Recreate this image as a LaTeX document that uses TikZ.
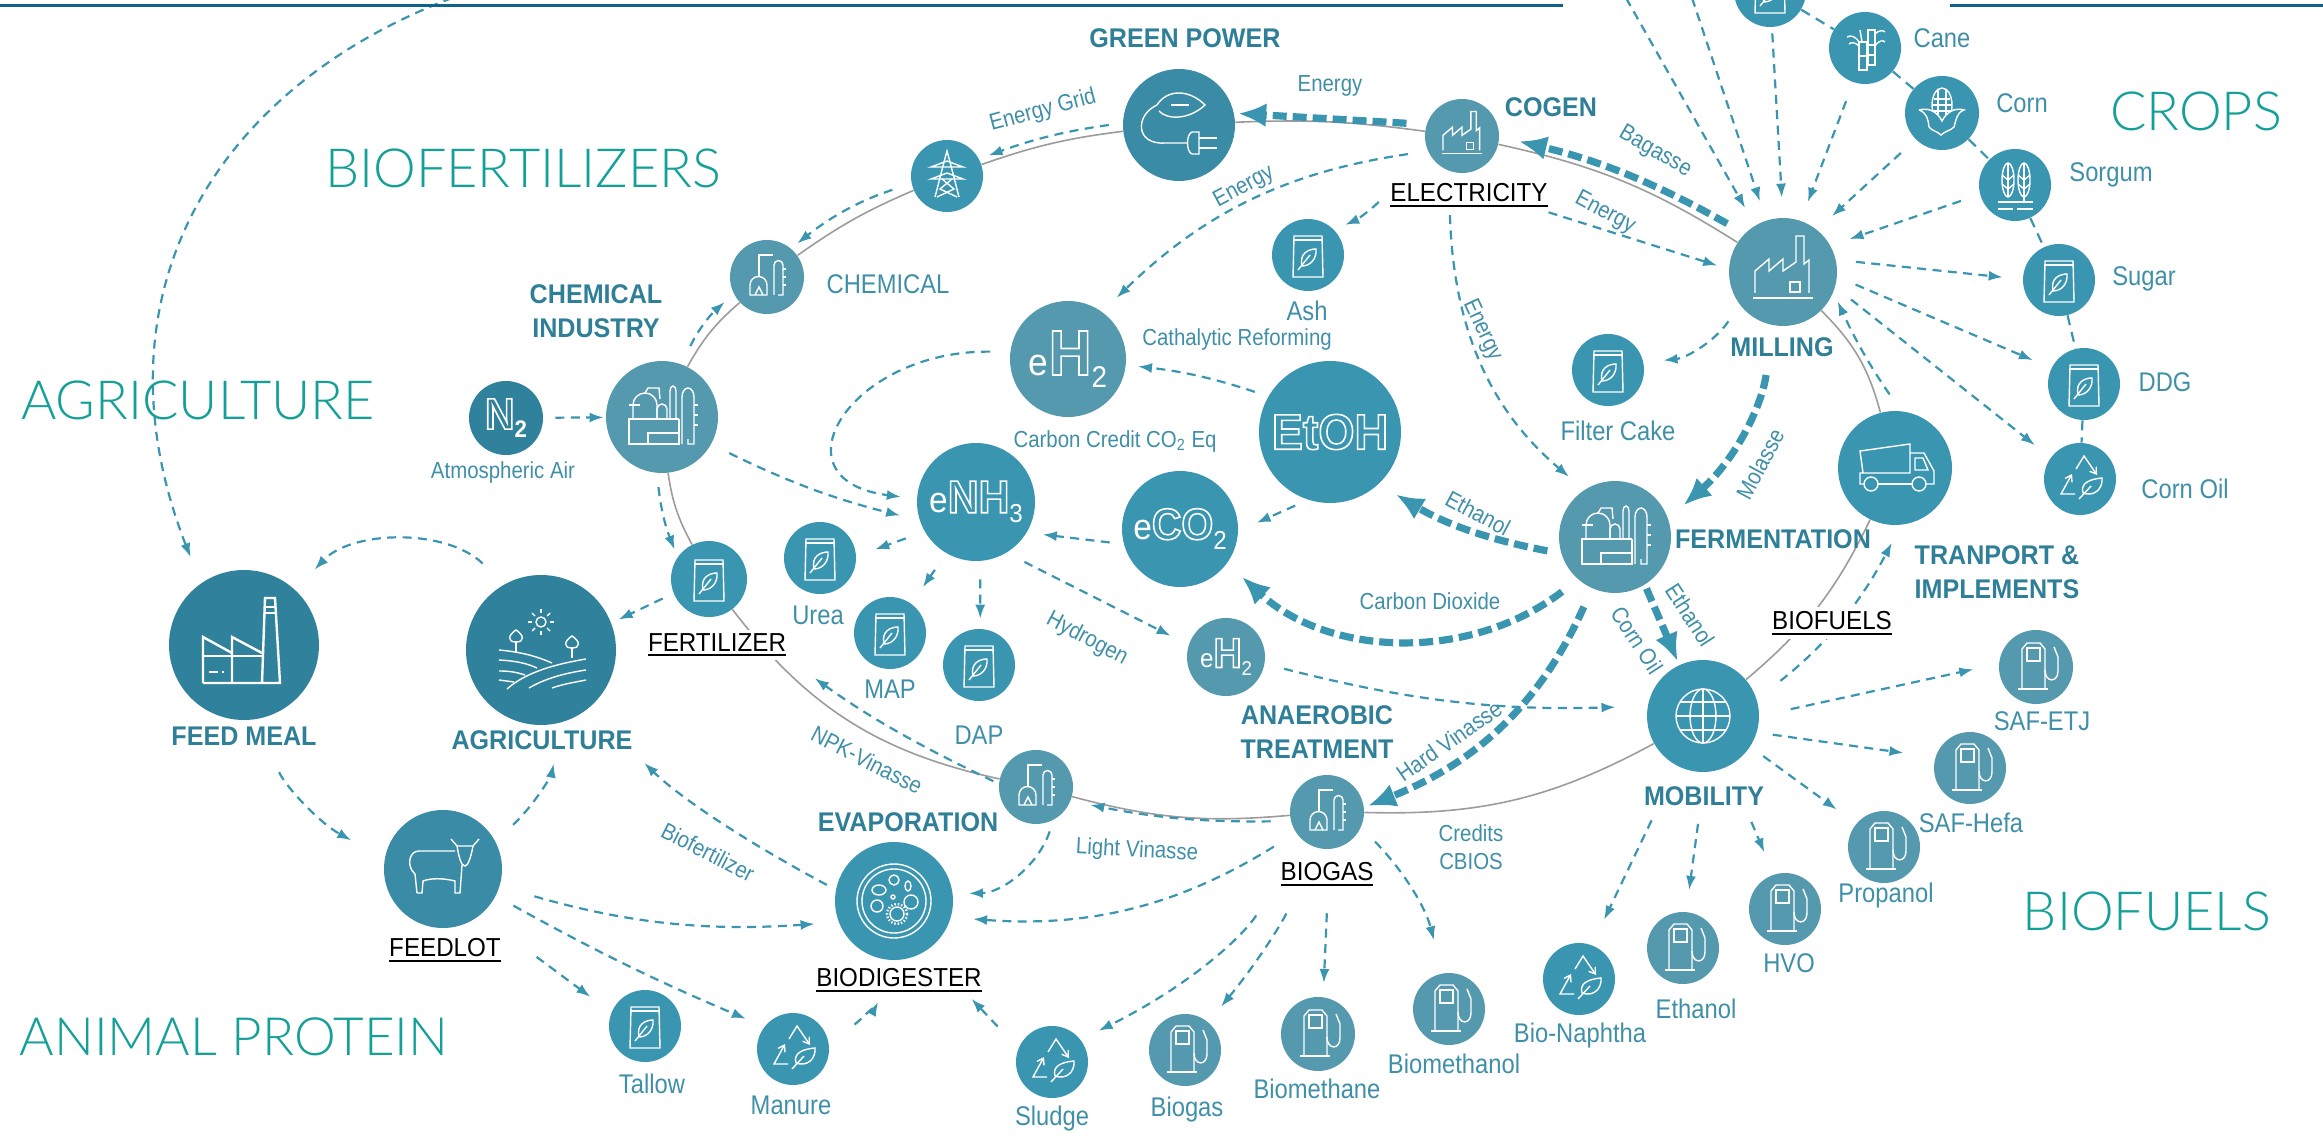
\documentclass[tikz,border=0pt]{standalone}
\usepackage{fontspec}
\setmainfont[FakeStretch=0.88]{Liberation Sans}
\newfontfamily\headfont[FakeStretch=0.93]{Liberation Sans}
\newfontfamily\titlefont{Lato Light}
\usetikzlibrary{arrows.meta,backgrounds}
\definecolor{bright}{HTML}{3A95B1}
\definecolor{pale}{HTML}{5499AE}
\definecolor{mid}{HTML}{3A8BA5}
\definecolor{deep}{HTML}{30829C}
\definecolor{ink}{HTML}{3F8FA8}
\definecolor{headink}{HTML}{2F7F98}
\definecolor{titleink}{HTML}{14A098}
\definecolor{rulecol}{HTML}{0F6288}
\definecolor{ringcol}{HTML}{9C9C9C}
\newcommand{\hollow}[1]{\special{pdf:code 1 Tr 0.8 w}#1\special{pdf:code 0 Tr}}
\newcommand{\barred}[1]{\leavevmode\vtop{\hbox{#1}\kern1.4pt\hrule height 1.1pt}}
\tikzset{
  every pic/.style={yscale=-1},
  disc/.style={circle,inner sep=0pt,minimum size=#1,text=white,font=\headfont},
  lbl/.style={text=ink,inner sep=0pt,align=center,font=\fontsize{13.5}{14}\selectfont},
  thinlbl/.style={text=ink,inner sep=0pt,align=center,font=\fontsize{11.6}{12}\selectfont},
  headlbl/.style={text=headink,inner sep=0pt,align=center,font=\headfont\bfseries\fontsize{13.5}{17}\selectfont},
  underlbl/.style={text=black,fill=white,inner sep=2pt,font=\headfont\fontsize{13}{15}\selectfont},
  titlelbl/.style={text=titleink,inner sep=0pt,font=\titlefont\fontsize{27}{29}\selectfont},
  ring/.style={draw=ringcol,line width=0.8pt},
  flow/.style={draw=bright,line width=1.1pt,dash pattern=on 4.5pt off 3.2pt,shorten <=10pt,shorten >=10pt,-{Latex[length=7pt,width=5pt]}},
  mainflow/.style={draw=bright,line width=3.6pt,dash pattern=on 7pt off 3pt,shorten <=10pt,shorten >=10pt,-{Latex[length=14pt,width=12pt]}},
  chain/.style={draw=bright,line width=1.1pt,dash pattern=on 5pt off 3.5pt},
  icon/.style={draw=white,line width=0.7pt},
  bagicon/.pic={
    \draw[icon] (-14,-19) -- (14,-19) -- (15,22) -- (-15,22) -- cycle;
    \draw[icon] (-14,-15) -- (14,-15);
    \draw[icon] (-6,11) .. controls (-9,-2) and (1,-6) .. (8,-6) .. controls (9,4) and (2,11) .. (-6,11);
    \draw[icon] (-10,15) -- (2,0);
  },
  pumpicon/.pic={
    \draw[icon] (-14,22) -- (-14,-18) -- (-9,-24) -- (4,-24) -- (9,-18) -- (9,22);
    \draw[icon] (-18,22) -- (12,22);
    \draw[icon] (-9,-19) rectangle (4,-6);
    \draw[icon] (9,3) .. controls (9,16) and (22,16) .. (22,4) -- (22,-10) -- (18,-20);
  },
  recycleicon/.pic={
    \draw[icon,-{Straight Barb[length=3pt,width=4pt]}] (-5,15) -- (-19,15) -- (-8,-5);
    \draw[icon,-{Straight Barb[length=3pt,width=4pt]}] (-4,-10) -- (4,-23) -- (17,-4);
    \draw[icon] (3,14) .. controls (0,4) and (10,0) .. (22,-1) .. controls (23,10) and (14,18) .. (3,14);
    \draw[icon] (-1,20) -- (11,7);
  },
  factoryicon/.pic={
    \draw[icon] (-30,26) -- (30,26);
    \draw[icon] (-28,21) -- (-28,-1) -- (-14,-13) -- (-14,-1) -- (0,-13) -- (0,-1) -- (13,-10) -- (13,-36) -- (21,-36) -- (21,-8) -- (26,-12) -- (26,21);
    \draw[icon] (7,10) rectangle (17,20);
  },
  refineryicon/.pic={
    \draw[icon] (17,2) -- (-33,2) -- (-33,27) -- (17,27) -- (17,2);
    \draw[icon] (-14,27) -- (-14,16) -- (17,16);
    \draw[icon] (-29,2) -- (-29,-12) arc (180:360:12 and 12) -- (-5,2);
    \draw[icon] (-33,-12) -- (-22,-12);
    \draw[icon] (-17,-24) -- (-14,-29) -- (-3,-29) -- (-2,-18);
    \draw[icon] (-5,2) -- (-5,-8) arc (180:360:5 and 5) -- (5,2);
    \draw[icon] (8,2) -- (8,-26) arc (180:360:3 and 5) -- (14,2);
    \draw[icon] (20,27) -- (20,-20) arc (180:360:6 and 9) -- (32,27) -- (26,27) -- (26,22);
    \draw[icon] (32,-12) -- (36,-12); \draw[icon] (32,-2) -- (36,-2); \draw[icon] (32,8) -- (36,8);
  },
  stillicon/.pic={
    \draw[icon] (-17,18) -- (-17,8) arc (180:360:8.5 and 8.5) -- (0,18) -- cycle;
    \draw[icon] (-8,0) -- (-8,-22) -- (6,-22);
    \draw[icon] (-12,18) -- (-8,10) -- (-4,18);
    \draw[icon] (7,18) -- (7,-12) arc (180:360:4.5 and 4.5) -- (16,18) -- (11,18);
    \draw[icon] (16,-8) -- (19,-8); \draw[icon] (16,0) -- (19,0); \draw[icon] (16,8) -- (19,8);
  },
  pylonicon/.pic={
    \draw[icon] (-12,21) -- (-3,-14) -- (0,-25) -- (3,-14) -- (12,21);
    \draw[icon] (-16,-9) -- (0,-15) -- (16,-9) -- cycle;
    \draw[icon] (-16,3) -- (0,-3) -- (16,3) -- cycle;
    \draw[icon] (-5,3) -- (7,13) -- (-10,21);
    \draw[icon] (5,3) -- (-7,13) -- (10,21);
  },
  greenicon/.pic={
    \draw[icon] (-22,-20) .. controls (-12,-36) and (10,-36) .. (26,-20) .. controls (10,-5) and (-12,-5) .. (-20,-14);
    \draw[icon] (-8,-20) -- (10,-20);
    \draw[icon] (-22,-20) .. controls (-44,-10) and (-44,20) .. (-14,18) -- (8,18);
    \draw[icon] (20,7) -- (13,7) .. controls (7,9) and (7,27) .. (13,29) -- (20,29) -- cycle;
    \draw[icon] (20,13) -- (38,13); \draw[icon] (20,23) -- (38,23);
  },
  globeicon/.pic={
    \draw[icon] (0,0) circle (27);
    \draw[icon] (0,0) ellipse (13 and 27);
    \draw[icon] (0,-27) -- (0,27);
    \draw[icon] (-27,0) -- (27,0);
    \draw[icon] (-23,-14) -- (23,-14);
    \draw[icon] (-23,14) -- (23,14);
  },
  truckicon/.pic={
    \draw[icon] (-17,16) -- (17,16);
    \draw[icon] (-31,16) -- (-35,16) -- (-35,5) -- (15,5) -- (15,-24) -- (-35,-17) -- (-32,5);
    \draw[icon] (15,-15) -- (29,-15) -- (39,3) -- (39,16) -- (31,16);
    \draw[icon] (20,-10) -- (28,-10) -- (33,2) -- (20,2) -- cycle;
    \draw[icon] (-24,16) circle (7);
    \draw[icon] (24,16) circle (7);
  },
  cowicon/.pic={
    \draw[icon] (-26,24) -- (-28,5) .. controls (-37,-3) and (-34,-18) .. (-24,-18) -- (12,-18);
    \draw[icon] (8,-30) -- (14,-23) -- (30,-23) -- (36,-30);
    \draw[icon] (14,-23) .. controls (16,-12) and (18,-3) .. (22,-3) .. controls (25,-3) and (28,-12) .. (30,-23);
    \draw[icon] (19,-4) -- (17,24) -- (12,24) -- (12,12) .. controls (0,9) and (-12,9) .. (-20,12) -- (-21,24) -- (-26,24);
  },
  fieldicon/.pic={
    \draw[icon] (0,-28) circle (5);
    \draw[icon] (-13,-28) -- (-9,-28); \draw[icon] (13,-28) -- (9,-28);
    \draw[icon] (0,-41) -- (0,-37); \draw[icon] (0,-15) -- (0,-19);
    \draw[icon] (-9,-37) -- (-6,-34); \draw[icon] (9,-37) -- (6,-34);
    \draw[icon] (-9,-19) -- (-6,-22); \draw[icon] (9,-19) -- (6,-22);
    \draw[icon] (-42,0) .. controls (-20,2) and (-5,6) .. (11,13);
    \draw[icon] (-42,10) .. controls (-25,11) and (-15,13) .. (-4,18);
    \draw[icon] (-42,21) .. controls (-32,21) and (-25,22) .. (-16,25);
    \draw[icon] (-42,30) -- (-27,32);
    \draw[icon] (-34,39) .. controls (-15,22) and (15,14) .. (45,9);
    \draw[icon] (-12,38) .. controls (5,28) and (25,23) .. (45,20);
    \draw[icon] (11,38) .. controls (22,34) and (35,32) .. (45,30);
    \draw[icon] (-25,3) -- (-25,-8);
    \draw[icon] (-25,-8) .. controls (-34,-8) and (-33,-15) .. (-25,-20) .. controls (-17,-15) and (-16,-8) .. (-25,-8);
    \draw[icon] (31,8) -- (31,-2);
    \draw[icon] (31,-2) .. controls (22,-2) and (23,-9) .. (31,-14) .. controls (39,-9) and (40,-2) .. (31,-2);
  },
  planticon/.pic={
    \draw[icon,line width=1.2pt] (-41,38) -- (36,38) -- (31,-47) -- (21,-47) -- (18,38);
    \draw[icon,line width=1.2pt] (-41,38) -- (-41,-8) -- (-12,8) -- (-12,38);
    \draw[icon,line width=1.2pt] (-12,8) -- (-12,-8) -- (18,8);
    \draw[icon,line width=1.2pt] (-41,11) -- (18,11);
    \draw[icon,line width=1.2pt] (22,-38) -- (31,-38); \draw[icon,line width=1.2pt] (21,-32) -- (31,-32);
    \draw[icon,line width=1.2pt] (-35,27) -- (-26,27); \draw[icon,line width=1.2pt] (-22,27) -- (-20,27);
  },
  caneicon/.pic={
    \draw[icon] (-6,-6) rectangle (2,22);
    \draw[icon] (3,-18) rectangle (10,17);
    \draw[icon] (-6,8) -- (2,8); \draw[icon] (3,-3) -- (10,-3); \draw[icon] (3,7) -- (10,7);
    \draw[icon] (-6,-6) .. controls (-10,-12) and (-14,-13) .. (-18,-11);
    \draw[icon] (-6,-2) .. controls (-10,-6) and (-14,-6) .. (-16,-4);
    \draw[icon] (10,-14) .. controls (14,-18) and (18,-18) .. (20,-16);
    \draw[icon] (10,-2) .. controls (14,-8) and (18,-8) .. (20,-6);
    \draw[icon] (-3,-6) -- (-5,-18);
  },
  cornicon/.pic={
    \draw[icon] (0,-8) ellipse (10 and 17);
    \draw[icon] (-8,-14) -- (8,-14); \draw[icon] (-10,-8) -- (10,-8); \draw[icon] (-9,-2) -- (9,-2);
    \draw[icon] (-4,-24) -- (-4,2); \draw[icon] (4,-24) -- (4,2);
    \draw[icon,fill=bright] (-23,-3) .. controls (-12,-6) and (-4,0) .. (0,8) .. controls (4,0) and (12,-6) .. (22,-3) .. controls (14,0) and (14,8) .. (12,14) .. controls (8,18) and (3,18) .. (-1,22) .. controls (-5,18) and (-10,18) .. (-13,14) .. controls (-14,6) and (-15,0) .. (-23,-3);
  },
  sorgumicon/.pic={
    \draw[icon] (-7,-5) ellipse (6 and 17);
    \draw[icon] (9,-5) ellipse (6 and 17);
    \draw[icon] (-13,-10) -- (-7,-5) -- (-1,-10); \draw[icon] (-13,-1) -- (-7,4) -- (-1,-1);
    \draw[icon] (3,-10) -- (9,-5) -- (15,-10); \draw[icon] (3,-1) -- (9,4) -- (15,-1);
    \draw[icon] (-7,-22) -- (-7,12); \draw[icon] (9,-22) -- (9,17);
    \draw[icon] (-17,17) -- (18,17);
    \draw[icon] (-17,24) -- (-2,24); \draw[icon] (2,24) -- (18,24);
  },
  petriicon/.pic={
    \draw[icon] (0,0) circle (37);
    \draw[icon] (0,0) circle (32);
    \draw[icon] (0,-21) circle (5);
    \draw[icon] (-17,5) circle (6);
    \draw[icon] (17,1) circle (7);
    \draw[icon] (-1,-4) circle (2);
    \draw[icon,densely dotted,line width=1.2pt] (3,13) circle (10);
    \draw[icon] (3,13) circle (7);
    \draw[icon] (-15,-11) ellipse (7 and 5);
    \draw[icon] (14,-15) ellipse (3 and 5);
  }
}
\newcommand{\hollowtext}[2]{{\fontsize{#1}{#1}\selectfont\bfseries\hollow{#2}}}
\begin{document}
\begin{tikzpicture}[x=0.5pt,y=0.5pt,yscale=-1,xscale=1]
\useasboundingbox (0,0) rectangle (2323,1139);
\coordinate (ruleA) at (0,5.5);
\coordinate (ruleB) at (1563,5.5);
\coordinate (ruleC) at (1950,5.5);
\coordinate (ruleD) at (2323,5.5);
\coordinate (cropA) at (1626,-2);
\coordinate (cropB) at (1692,-2);
\coordinate (cropC) at (452,-2);
\draw [rulecol,line width=1.6pt] (ruleA) -- (ruleB);
\draw [rulecol,line width=1.6pt] (ruleC) -- (ruleD);

\node [disc=36pt,fill=bright] (topcrop) at (1770,-9) {};
\node [disc=36pt,fill=bright] (cane) at (1865,48) {};
\node [disc=37pt,fill=bright] (corn) at (1942,113) {};
\node [disc=36pt,fill=bright] (sorgum) at (2015,185) {};
\node [disc=36pt,fill=bright] (sugar) at (2059,280) {};
\node [disc=36pt,fill=bright] (ddg) at (2084,384) {};
\node [disc=36pt,fill=bright] (cornoil) at (2080,479) {};
\node [disc=54pt,fill=pale] (milling) at (1783,272) {};
\node [disc=37pt,fill=pale] (cogen) at (1462,136) {};
\node [disc=36pt,fill=bright] (ash) at (1308,255) {};
\node [disc=36pt,fill=bright] (filtercake) at (1608,370) {};
\node [disc=57pt,fill=bright] (truck) at (1895,468) {};
\node [disc=56pt,fill=pale] (fermentation) at (1615,537) {};
\node [disc=56pt,fill=mid] (greenpower) at (1179,125) {};
\node [disc=36pt,fill=bright] (pylon) at (947,176) {};
\node [disc=37pt,fill=pale] (chemsmall) at (767,277) {};
\node [disc=56pt,fill=pale] (chemind) at (662,417) {};
\node [disc=37pt,fill=deep] (nitro) at (506,418) {\hollowtext{22}{N}\raisebox{-4pt}{\bfseries\fontsize{12}{12}\selectfont 2}};
\node [disc=58pt,fill=pale] (ehyd) at (1068,359) {\fontsize{19}{19}\selectfont e\hollowtext{32}{H}\raisebox{-6pt}{\fontsize{15}{15}\selectfont 2}};
\node [disc=71pt,fill=bright] (etoh) at (1330,432) {\hollowtext{25}{EtOH}};
\node [disc=58pt,fill=bright] (eco) at (1180,529) {\fontsize{18}{18}\selectfont e\hollowtext{22}{CO}\raisebox{-5pt}{\fontsize{13}{13}\selectfont 2}};
\node [disc=59pt,fill=bright] (enh) at (976,502) {\fontsize{18}{18}\selectfont e\hollowtext{23}{NH}\raisebox{-5pt}{\fontsize{13}{13}\selectfont 3}};
\node [disc=75pt,fill=deep] (feedmeal) at (244,645) {};
\node [disc=75pt,fill=deep] (agriculture) at (541,650) {};
\node [disc=38pt,fill=bright] (fertilizer) at (709,579) {};
\node [disc=36pt,fill=bright] (urea) at (820,558) {};
\node [disc=36pt,fill=bright] (map) at (890,633) {};
\node [disc=36pt,fill=bright] (dap) at (979,665) {};
\node [disc=59pt,fill=mid] (feedlot) at (443,869) {};
\node [disc=59pt,fill=bright] (biodigester) at (894,901) {};
\node [disc=36pt,fill=bright] (tallow) at (645,1026) {};
\node [disc=36pt,fill=bright] (manure) at (793,1049) {};
\node [disc=39pt,fill=pale] (ehydsmall) at (1226,657) {\fontsize{13}{13}\selectfont e\hollowtext{21}{H}\raisebox{-4pt}{\fontsize{10}{10}\selectfont 2}};
\node [disc=37pt,fill=pale] (evaporation) at (1036,787) {};
\node [disc=37pt,fill=pale] (biogas) at (1327,812) {};
\node [disc=56pt,fill=bright] (mobility) at (1703,716) {};
\node [disc=37pt,fill=pale] (safetj) at (2036,667) {};
\node [disc=36pt,fill=pale] (safhefa) at (1970,768) {};
\node [disc=36pt,fill=pale] (propanol) at (1884,847) {};
\node [disc=36pt,fill=pale] (hvo) at (1785,909) {};
\node [disc=36pt,fill=pale] (ethanol) at (1683,948) {};
\node [disc=36pt,fill=bright] (bionaphtha) at (1579,979) {};
\node [disc=36pt,fill=pale] (biomethanol) at (1449,1009) {};
\node [disc=37pt,fill=pale] (biomethane) at (1318,1034) {};
\node [disc=36pt,fill=pale] (biogaspump) at (1185,1050) {};
\node [disc=36pt,fill=bright] (sludge) at (1052,1062) {};

\pic at (topcrop) {bagicon};
\pic at (cane) {caneicon};
\pic at (corn) {cornicon};
\pic at (sorgum) {sorgumicon};
\pic at (sugar) {bagicon};
\pic at (ddg) {bagicon};
\pic at (cornoil) {recycleicon};
\pic at (milling) {factoryicon};
\pic[scale=0.68] at (cogen) {factoryicon};
\pic at (ash) {bagicon};
\pic at (filtercake) {bagicon};
\pic at (truck) {truckicon};
\pic at (fermentation) {refineryicon};
\pic at (greenpower) {greenicon};
\pic at (pylon) {pylonicon};
\pic at (chemsmall) {stillicon};
\pic at (chemind) {refineryicon};
\pic at (feedmeal) {planticon};
\pic at (agriculture) {fieldicon};
\pic at (fertilizer) {bagicon};
\pic at (urea) {bagicon};
\pic at (map) {bagicon};
\pic at (dap) {bagicon};
\pic at (feedlot) {cowicon};
\pic at (biodigester) {petriicon};
\pic at (tallow) {bagicon};
\pic at (manure) {recycleicon};
\pic at (evaporation) {stillicon};
\pic at (biogas) {stillicon};
\pic at (mobility) {globeicon};
\pic at (safetj) {pumpicon};
\pic at (safhefa) {pumpicon};
\pic at (propanol) {pumpicon};
\pic at (hvo) {pumpicon};
\pic at (ethanol) {pumpicon};
\pic at (bionaphtha) {recycleicon};
\pic at (biomethanol) {pumpicon};
\pic at (biomethane) {pumpicon};
\pic at (biogaspump) {pumpicon};
\pic at (sludge) {recycleicon};

\node [titlelbl] (titlebiofert) at (523,168) {BIOFERTILIZERS};
\node [titlelbl] (titleagri) at (198,400) {AGRICULTURE};
\node [titlelbl] (titlecrops) at (2196,111) {CROPS};
\node [titlelbl] (titlebiofuels) at (2147,911) {BIOFUELS};
\node [titlelbl,font=\titlefont\fontsize{26.4}{29}\selectfont] (titleanimal) at (234,1037) {ANIMAL PROTEIN};

\node [headlbl] (lblgreen) at (1185,38) {GREEN POWER};
\node [headlbl] (lblcogen) at (1551,107) {COGEN};
\node [headlbl] (lblchemind) at (596,311) {CHEMICAL\\INDUSTRY};
\node [headlbl] (lblmilling) at (1782,347) {MILLING};
\node [headlbl] (lblferm) at (1773,539) {FERMENTATION};
\node [headlbl] (lbltransport) at (1997,572) {TRANPORT \&\\IMPLEMENTS};
\node [headlbl] (lblanaerobic) at (1317,732) {ANAEROBIC\\TREATMENT};
\node [headlbl] (lblevap) at (908,822) {EVAPORATION};
\node [headlbl] (lblmobility) at (1704,796) {MOBILITY};
\node [headlbl] (lblfeedmeal) at (244,736) {FEED MEAL};
\node [headlbl] (lblagri) at (542,740) {AGRICULTURE};

\node [underlbl] (lblelectricity) at (1469,195) {\barred{ELECTRICITY}};
\node [underlbl] (lblbiofuels) at (1832,623) {\barred{BIOFUELS}};
\node [underlbl] (lblfertilizer) at (717,645) {\barred{FERTILIZER}};
\node [underlbl] (lblfeedlot) at (445,950) {\barred{FEEDLOT}};
\node [underlbl] (lblbiodigester) at (899,980) {\barred{BIODIGESTER}};
\node [underlbl] (lblbiogas) at (1327,874) {\barred{BIOGAS}};

\node [thinlbl] (lblenergya) at (1330,86) {Energy};
\node [thinlbl,rotate=15] (lblgrid) at (1043,111) {Energy Grid};
\node [thinlbl,rotate=28] (lblenergyb) at (1244,187) {Energy};
\node [thinlbl,rotate=-30] (lblbagasse) at (1655,152) {Bagasse};
\node [thinlbl,rotate=-28] (lblenergyc) at (1605,213) {Energy};
\node [thinlbl,rotate=-65] (lblenergyd) at (1482,330) {Energy};
\node [lbl] (lblash) at (1307,311) {Ash};
\node [thinlbl] (lblreforming) at (1237,340) {Cathalytic Reforming};
\node [thinlbl] (lblcredit) at (1115,441) {Carbon Credit CO\textsubscript{2} Eq};
\node [lbl] (lblfilter) at (1618,431) {Filter Cake};
\node [lbl] (lblchemical) at (888,284) {CHEMICAL};
\node [thinlbl] (lblair) at (503,473) {Atmospheric Air};
\node [thinlbl,rotate=62] (lblmolasse) at (1760,464) {Molasse};
\node [thinlbl,rotate=-28] (lblethanola) at (1478,513) {Ethanol};
\node [thinlbl] (lbldioxide) at (1430,601) {Carbon Dioxide};
\node [thinlbl,rotate=-57] (lblcornoilb) at (1637,640) {Corn Oil};
\node [thinlbl,rotate=-57] (lblethanolb) at (1690,615) {Ethanol};
\node [thinlbl,rotate=-28] (lblhydrogen) at (1087,639) {Hydrogen};
\node [lbl] (lblurea) at (818,615) {Urea};
\node [lbl] (lblmap) at (890,689) {MAP};
\node [lbl] (lbldap) at (979,735) {DAP};
\node [thinlbl,rotate=-27] (lblnpk) at (867,760) {NPK-Vinasse};
\node [thinlbl,rotate=-27] (lblbiofert) at (708,852) {Biofertilizer};
\node [thinlbl,rotate=35] (lblhard) at (1449,741) {Hard Vinasse};
\node [thinlbl,rotate=-3] (lbllight) at (1137,851) {Light Vinasse};
\node [thinlbl] (lblcredits) at (1471,847) {Credits\\[2pt]CBIOS};
\node [lbl] (lbltallow) at (652,1084) {Tallow};
\node [lbl] (lblmanure) at (791,1105) {Manure};
\node [lbl] (lblsludge) at (1052,1119) {Sludge};
\node [lbl] (lblbiogaspump) at (1187,1110) {Biogas};
\node [lbl] (lblbiomethane) at (1317,1089) {Biomethane};
\node [lbl] (lblbiomethanol) at (1454,1064) {Biomethanol};
\node [lbl] (lblnaphtha) at (1580,1036) {Bio-Naphtha};
\node [lbl] (lblethanolc) at (1696,1009) {Ethanol};
\node [lbl] (lblhvo) at (1789,963) {HVO};
\node [lbl] (lblpropanol) at (1886,896) {Propanol};
\node [lbl] (lblhefa) at (1971,823) {SAF-Hefa};
\node [lbl] (lbletj) at (2042,721) {SAF-ETJ};
\node [lbl] (lblcane) at (1942,38) {Cane};
\node [lbl] (lblcorn) at (2022,103) {Corn};
\node [lbl] (lblsorgum) at (2111,175) {Sorgum};
\node [lbl] (lblsugar) at (2144,279) {Sugar};
\node [lbl] (lblddg) at (2165,382) {DDG};
\node [lbl] (lblcornoil) at (2185,489) {Corn Oil};

\begin{scope}[on background layer]
\draw [ring] (greenpower) to[bend right=5] (cogen);
\draw [ring] (cogen) to[bend right=10] (milling);
\draw [ring] (milling) to[bend right=15] (truck);
\draw [ring] (truck) to[bend right=12] (mobility);
\draw [ring] (mobility) to[bend right=15] (biogas);
\draw [ring] (biogas) to[bend right=10] (evaporation);
\draw [ring] (evaporation) to[bend right=20] (fertilizer);
\draw [ring] (fertilizer) to[bend right=10] (chemind);
\draw [ring] (chemind) to[bend right=10] (chemsmall);
\draw [ring] (chemsmall) to[bend right=6] (pylon);
\draw [ring] (pylon) to[bend right=6] (greenpower);

\draw [chain] (topcrop) -- (cane);
\draw [chain] (cane) -- (corn);
\draw [chain] (corn) -- (sorgum);
\draw [chain] (sorgum) -- (sugar);
\draw [chain] (sugar) -- (ddg);
\draw [chain] (ddg) -- (cornoil);

\draw [flow,shorten <=0pt] (cropA) -- (milling.121);
\draw [flow,shorten <=0pt] (cropB) -- (milling.108);
\draw [flow,shorten <=3pt] (topcrop.-87) -- (milling.90);
\draw [flow] (cane.-109) -- (milling.71);
\draw [flow] (corn.-135) -- (milling.51);
\draw [flow] (sorgum.-165) -- (milling.29);
\draw [flow] (milling.13) -- (sugar.179);
\draw [flow] (milling.-5) -- (ddg.154);
\draw [flow] (milling.-16) -- (cornoil.144);
\draw [flow,shorten >=5pt] (truck.84) to[bend right=5] (milling.-22);
\draw [flow] (milling.-143) to[bend right=25] (filtercake.12);
\draw [flow,shorten <=2pt,shorten >=6pt] (lblelectricity.-12) -- (milling.177);
\draw [flow,shorten <=2pt] (lblelectricity.-140) to[bend left=24] (fermentation.123);
\draw [flow,shorten <=5pt,shorten >=6pt] (lblelectricity.west) to[bend right=10] (ash.44);
\draw [flow] (cogen.-156) to[bend left=18] (ehyd.54);
\draw [mainflow,shorten >=2pt] (cogen.162) -- (greenpower.12);
\draw [mainflow] (milling.135) to[bend left=8] (cogen.-1);
\draw [mainflow,shorten <=25pt] (milling.-100) to[bend right=20] (fermentation.19);
\draw [mainflow,shorten <=7pt] (fermentation.-163) to[bend right=10] (etoh.-47);
\draw [mainflow] (fermentation.-131) to[bend right=40] (eco.-36);
\draw [mainflow,shorten >=2pt] (fermentation.-114) to[bend right=22] (biogas.7);
\draw [mainflow,shorten <=2pt,shorten >=2pt] (fermentation.-58) -- (mobility.115);
\draw [flow,shorten <=7pt,shorten >=6pt] (etoh.150) to[bend left=6] (ehyd.-6);
\draw [flow,shorten <=7pt] (etoh.-108) -- (eco.-2);
\draw [flow,shorten <=7pt,shorten >=8pt] (eco.-165) -- (enh.-31);
\draw [flow,shorten >=8pt] (ehyd.173) .. controls (850,350) and (770,480) .. (enh.177);
\draw [flow] (chemind.-29) to[bend left=6] (enh.-162);
\draw [flow] (enh.-150) -- (urea.3);
\draw [flow] (enh.-120) -- (map.54);
\draw [flow,shorten <=9pt,shorten >=5pt] (enh.-86) -- (dap.88);
\draw [flow] (enh.-59) -- (ehydsmall.162);
\draw [flow,shorten >=16pt] (ehydsmall.-10) to[bend left=8] (mobility.170);
\draw [flow,shorten <=6pt,shorten >=1pt] (nitro) -- (chemind);
\draw [flow,shorten >=6pt] (chemind.69) to[bend right=12] (chemsmall.-153);
\draw [flow,shorten <=7pt,shorten >=4pt] (chemind.-95) to[bend left=8] (fertilizer.145);
\draw [flow,shorten >=4pt] (pylon.-168) to[bend left=10] (chemsmall.50);
\draw [flow,shorten <=7pt,shorten >=5pt] (greenpower.178) to[bend left=6] (pylon.28);
\draw [flow,shorten <=6pt,shorten >=4pt] (fertilizer.-158) -- (agriculture.21);
\draw [flow,shorten <=15pt,shorten >=14pt] (agriculture.119) to[bend left=45] (feedmeal.47);
\draw [flow,shorten <=29pt,shorten >=19pt] (feedmeal.-82) to[bend left=18] (feedlot.170);
\draw [flow,shorten <=12pt,shorten >=21pt] (feedlot.28) to[bend left=18] (agriculture.-74);
\draw [flow,shorten <=5pt,shorten >=39pt] (biodigester.169) to[bend right=8] (agriculture.-51);
\draw [flow,shorten <=3pt,shorten >=15pt] (evaporation.175) to[bend right=5] (lblfertilizer.south east);
\draw [flow,shorten <=6pt,shorten >=8pt] (evaporation.-62) to[bend right=35] (biodigester.7);
\draw [flow] (biogas.-166) to[bend right=6] (evaporation.-22);
\draw [flow,shorten <=13pt,shorten >=11pt] (biogas.-146) to[bend right=18] (biodigester.-16);
\draw [flow,shorten <=44pt] (biogas.-126) to[bend right=15] (sludge.38);
\draw [flow,shorten <=36pt] (biogas.-109) to[bend right=8] (biogaspump.50);
\draw [flow,shorten <=32pt,shorten >=7pt] (biogas.-86) -- (biomethane.82);
\draw [flow,shorten >=17pt] (biogas.-24) to[bend right=15] (biomethanol.101);
\draw [flow,shorten <=15pt,shorten >=33pt] (sludge.158) -- (biodigester.-57);
\draw [flow,shorten <=16pt,shorten >=24pt] (manure.8) to[bend left=12] (biodigester.-83);
\draw [flow,shorten <=18pt,shorten >=12pt] (feedlot.-17) to[bend left=10] (biodigester.-159);
\draw [flow] (feedlot.-27) to[bend left=3] (manure.142);
\draw [flow,shorten <=35pt,shorten >=13pt] (feedlot.-51) -- (tallow.158);
\draw [flow,shorten <=16pt,shorten >=13pt] (mobility.0) -- (safetj.175);
\draw [flow,shorten <=8pt,shorten >=16pt] (mobility.-17) -- (safhefa.163);
\draw [flow,shorten <=8pt,shorten >=12pt] (mobility.-33) -- (propanol.140);
\draw [flow,shorten <=30pt,shorten >=12pt] (mobility.-64) -- (hvo.108);
\draw [flow,shorten <=26pt,shorten >=11pt] (mobility.-88) -- (ethanol.85);
\draw [flow,shorten <=30pt,shorten >=14pt] (mobility.-117) -- (bionaphtha.69);
\draw [flow,shorten <=15pt] (mobility.17) to[bend left=12] (truck.-84);
\draw [flow,shorten <=0pt,shorten >=14pt] (cropC) .. controls (210,90) and (90,300) .. (feedmeal.125);
\end{scope}
\end{tikzpicture}
\end{document}
